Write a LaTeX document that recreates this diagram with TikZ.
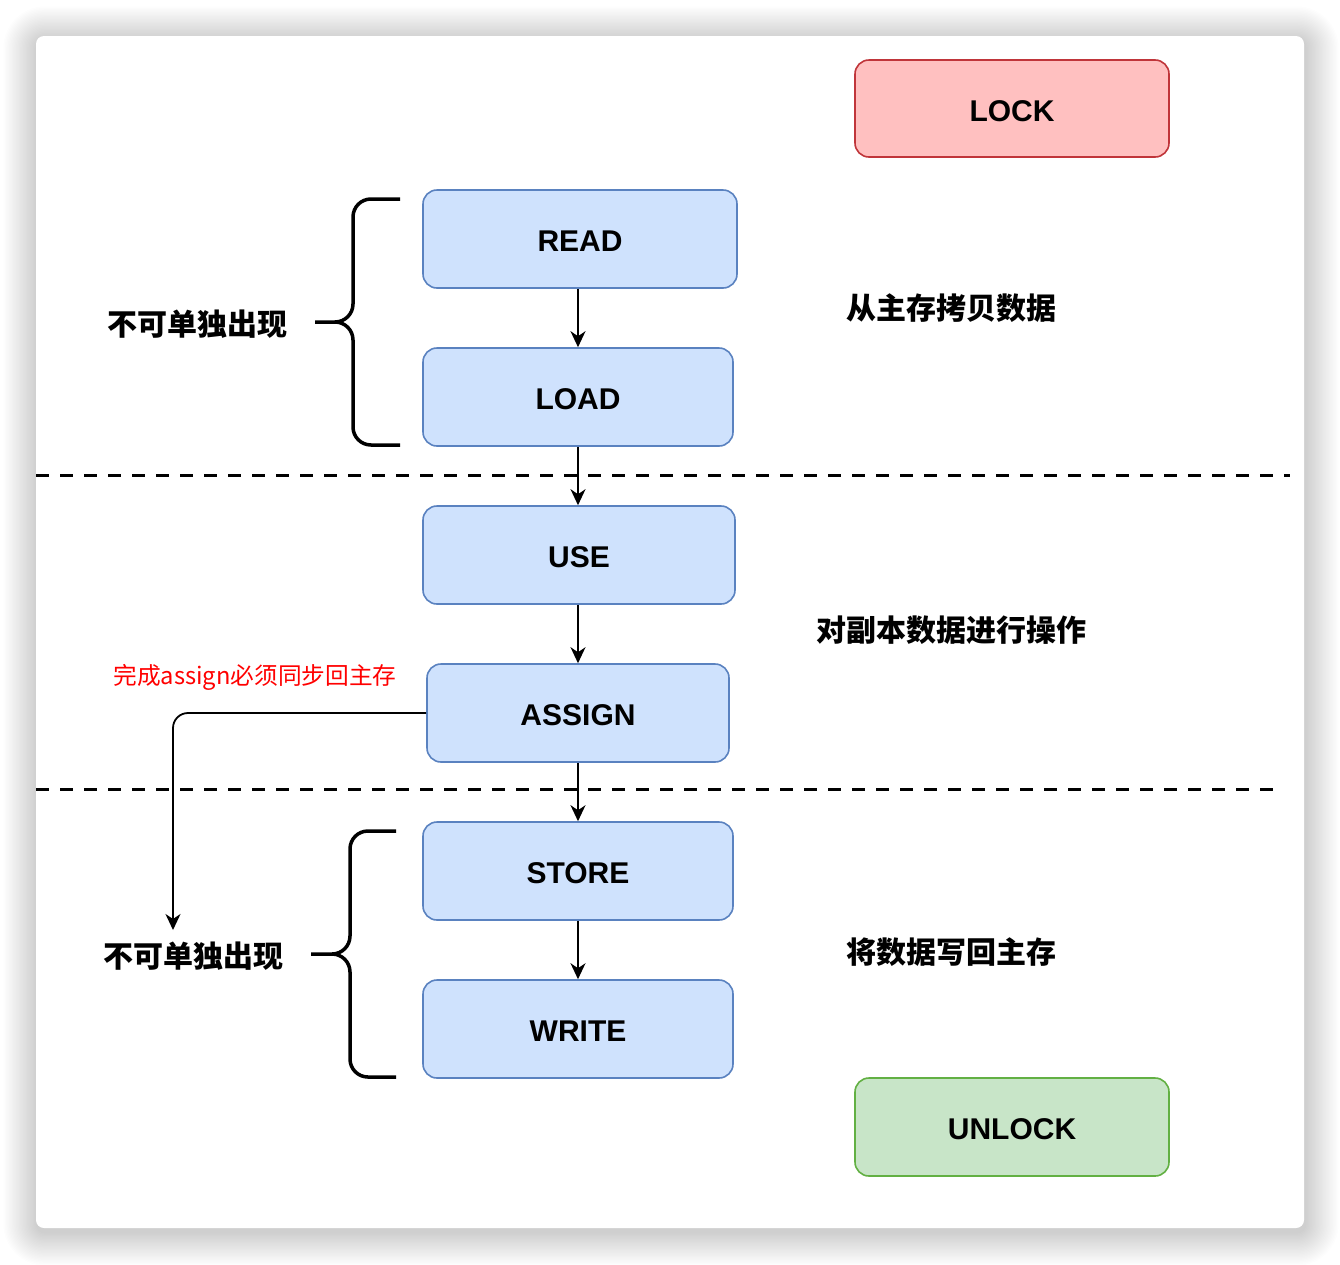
\documentclass[tikz,border=0pt]{standalone}
\usepackage{fontspec}
\setmainfont{Liberation Sans}
\newfontfamily\cjk{Noto Sans CJK SC}
\usetikzlibrary{arrows.meta}
\definecolor{bluefill}{HTML}{CFE2FD}
\definecolor{bluedraw}{HTML}{5A82C0}
\definecolor{redfill}{HTML}{FFC0C0}
\definecolor{reddraw}{HTML}{C0353A}
\definecolor{greenfill}{HTML}{C8E5C8}
\definecolor{greendraw}{HTML}{62B043}
\tikzset{
  opbox/.style={draw=bluedraw, fill=bluefill, rounded corners=14pt, line width=1.6pt,
    minimum height=98pt, inner sep=0pt, text height=25pt, text depth=0pt,
    font=\bfseries\fontsize{30}{30}\selectfont},
  lockbox/.style={opbox, draw=reddraw, fill=redfill},
  unlockbox/.style={opbox, draw=greendraw, fill=greenfill},
  arr/.style={line width=1.8pt, -{Stealth[length=16pt,width=15pt,inset=5pt]}},
  dashline/.style={line width=3pt, dash pattern=on 13pt off 11pt},
  bracepath/.style={line width=3.5pt},
  cjkbold/.style={font=\cjk\bfseries\fontsize{30}{30}\selectfont, inner sep=0pt},
  cjkred/.style={font=\cjk\fontsize{23.7}{24}\selectfont, text=red, inner sep=0pt}
}
\begin{document}
\begin{tikzpicture}[x=1pt,y=-1pt]
\useasboundingbox (0,0) rectangle (1340,1264);
\fill[white] (0,0) rectangle (1340,1264);
% shadow
\foreach \i in {1,...,24}{
  \fill[black, opacity=0.009, rounded corners={(8+1.4*\i)*1pt}]
    ({36-1.4*\i+1},{36-1.4*\i+4}) rectangle ({1304+1.4*\i+1},{1228+1.4*\i+4});
}
\fill[white, rounded corners=8pt] (36,36) rectangle (1304,1228);

% dashed separators
\draw[dashline] (36,475) -- (1290,475);
\draw[dashline] (36,789) -- (1275,789);

% boxes
\node[lockbox, minimum width=314pt, minimum height=97pt] (lock) at (1012,108.5) {LOCK};
\node[opbox, minimum width=314pt] (read) at (580,239) {READ};
\node[opbox, minimum width=310pt] (load) at (578,397) {LOAD};
\node[opbox, minimum width=312pt] (use) at (579,555) {USE};
\node[opbox, minimum width=302pt] (assign) at (578,713) {ASSIGN};
\node[opbox, minimum width=310pt] (store) at (578,871) {STORE};
\node[opbox, minimum width=310pt] (write) at (578,1029) {WRITE};
\node[unlockbox, minimum width=314pt] (unlock) at (1012,1127) {UNLOCK};

% arrows
\draw[arr] (read.south -| load.north) -- (load.north);
\draw[arr] (load.south) -- (load.south |- use.north);
\draw[arr] (assign.north |- use.south) -- (assign.north);
\draw[arr] (assign.south) -- (assign.south |- store.north);
\draw[arr] (store.south) -- (write.north);
\coordinate (assignend) at (173,930);
\draw[arr, rounded corners=15pt] (assign.west) -| (assignend);

% braces
\draw[bracepath] (400,199) -- (371,199) to[out=180,in=90] (353,217) -- (353,304)
  to[out=-90,in=0] (335,322) -- (315,322);
\draw[bracepath] (400,445) -- (371,445) to[out=180,in=-90] (353,427) -- (353,340)
  to[out=90,in=0] (335,322);
\draw[bracepath] (396,831) -- (368,831) to[out=180,in=90] (350,849) -- (350,936)
  to[out=-90,in=0] (332,954) -- (311,954);
\draw[bracepath] (396,1077) -- (368,1077) to[out=180,in=-90] (350,1059) -- (350,972)
  to[out=90,in=0] (332,954);

% labels
\node[cjkbold] (t1) at (197,324) {不可单独出现};
\node[cjkbold] (t2) at (193,956) {不可单独出现};
\node[cjkbold] (r1) at (951,308) {从主存拷贝数据};
\node[cjkbold] (r2) at (951,630) {对副本数据进行操作};
\node[cjkbold] (r3) at (951,952) {将数据写回主存};
\node[cjkred] (note) at (255,677) {完成assign必须同步回主存};
\end{tikzpicture}
\end{document}
